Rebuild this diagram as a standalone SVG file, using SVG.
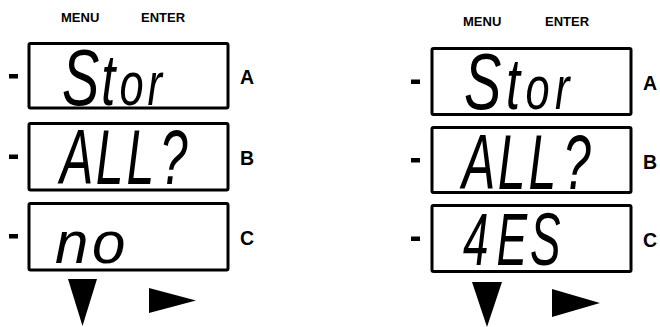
<svg xmlns="http://www.w3.org/2000/svg" width="660" height="327" viewBox="0 0 660 327">
<style>
.bg{fill:#fff}
.box{fill:#fff;stroke:#000;stroke-width:3}
.btn{font-family:"Liberation Sans",Arial,sans-serif;font-weight:bold;font-size:13px;fill:#000}
.lbl{font-family:"Liberation Sans",Arial,sans-serif;font-weight:bold;font-size:19.5px;fill:#000}
.seg{font-family:"Liberation Sans",Arial,sans-serif;font-style:italic;fill:#000}
.dash{fill:#000}
.tri{fill:#000}
</style>
<rect class="bg" x="0" y="0" width="660" height="327"/>
<g id="left-panel">
  <g id="left-buttons">
    <text class="btn" x="61" y="22">MENU</text>
    <text class="btn" x="141" y="22">ENTER</text>
  </g>
  <g id="left-A">
    <rect class="dash" x="9" y="74" width="9" height="4.5"/>
    <rect class="box" x="29" y="43.5" width="199" height="64.5" rx="1.5"/>
    <text class="seg" transform="translate(62,105) scale(0.7,1)" font-size="80"><tspan x="0">S</tspan><tspan x="56" font-size="72">t</tspan><tspan x="82" font-size="62">o</tspan><tspan x="122" font-size="62">r</tspan></text>
    <text class="lbl" x="240" y="84">A</text>
  </g>
  <g id="left-B">
    <rect class="dash" x="9" y="154.5" width="9" height="4.5"/>
    <rect class="box" x="29" y="123.5" width="199" height="66.5" rx="1.5"/>
    <text class="seg" transform="translate(60,184) scale(0.64,1)" font-size="78"><tspan x="0">A</tspan><tspan x="56">L</tspan><tspan x="104">L</tspan><tspan x="156">?</tspan></text>
    <text class="lbl" x="240" y="165">B</text>
  </g>
  <g id="left-C">
    <rect class="dash" x="9" y="234" width="9" height="4.5"/>
    <rect class="box" x="29" y="203.5" width="199" height="66.5" rx="1.5"/>
    <text class="seg" transform="translate(55,263)" font-size="60"><tspan x="0">n</tspan><tspan x="37">o</tspan></text>
    <text class="lbl" x="240" y="245">C</text>
  </g>
</g>
<g id="right-panel">
  <g id="right-buttons">
    <text class="btn" x="463" y="26">MENU</text>
    <text class="btn" x="545" y="26">ENTER</text>
  </g>
  <g id="right-A">
    <rect class="dash" x="411" y="79.5" width="9" height="4.5"/>
    <rect class="box" x="432" y="48.5" width="199" height="66" rx="1.5"/>
    <text class="seg" transform="translate(464,109) scale(0.7,1)" font-size="80"><tspan x="0">S</tspan><tspan x="60" font-size="72">t</tspan><tspan x="88" font-size="62">o</tspan><tspan x="130" font-size="62">r</tspan></text>
    <text class="lbl" x="643" y="90">A</text>
  </g>
  <g id="right-B">
    <rect class="dash" x="411" y="158" width="9" height="4.5"/>
    <rect class="box" x="432" y="127.5" width="199" height="65" rx="1.5"/>
    <text class="seg" transform="translate(462,188.5) scale(0.64,1)" font-size="78"><tspan x="0">A</tspan><tspan x="56">L</tspan><tspan x="104">L</tspan><tspan x="158">?</tspan></text>
    <text class="lbl" x="643" y="168.5">B</text>
  </g>
  <g id="right-C">
    <rect class="dash" x="411" y="236.5" width="9" height="4.5"/>
    <rect class="box" x="432" y="205.5" width="199" height="66" rx="1.5"/>
    <text class="seg" transform="translate(463,265) scale(0.62,1)" font-size="74"><tspan x="0">4</tspan><tspan x="54">E</tspan><tspan x="108">S</tspan></text>
    <text class="lbl" x="643" y="247">C</text>
  </g>
</g>
<g id="connectors">
  <polygon class="tri" points="68,279 97,279 82.5,326"/>
  <polygon class="tri" points="149,288 196,300.5 149,313"/>
  <polygon class="tri" points="472,282 502,282 487,327"/>
  <polygon class="tri" points="552,289 600,303 552,317"/>
</g>
</svg>
